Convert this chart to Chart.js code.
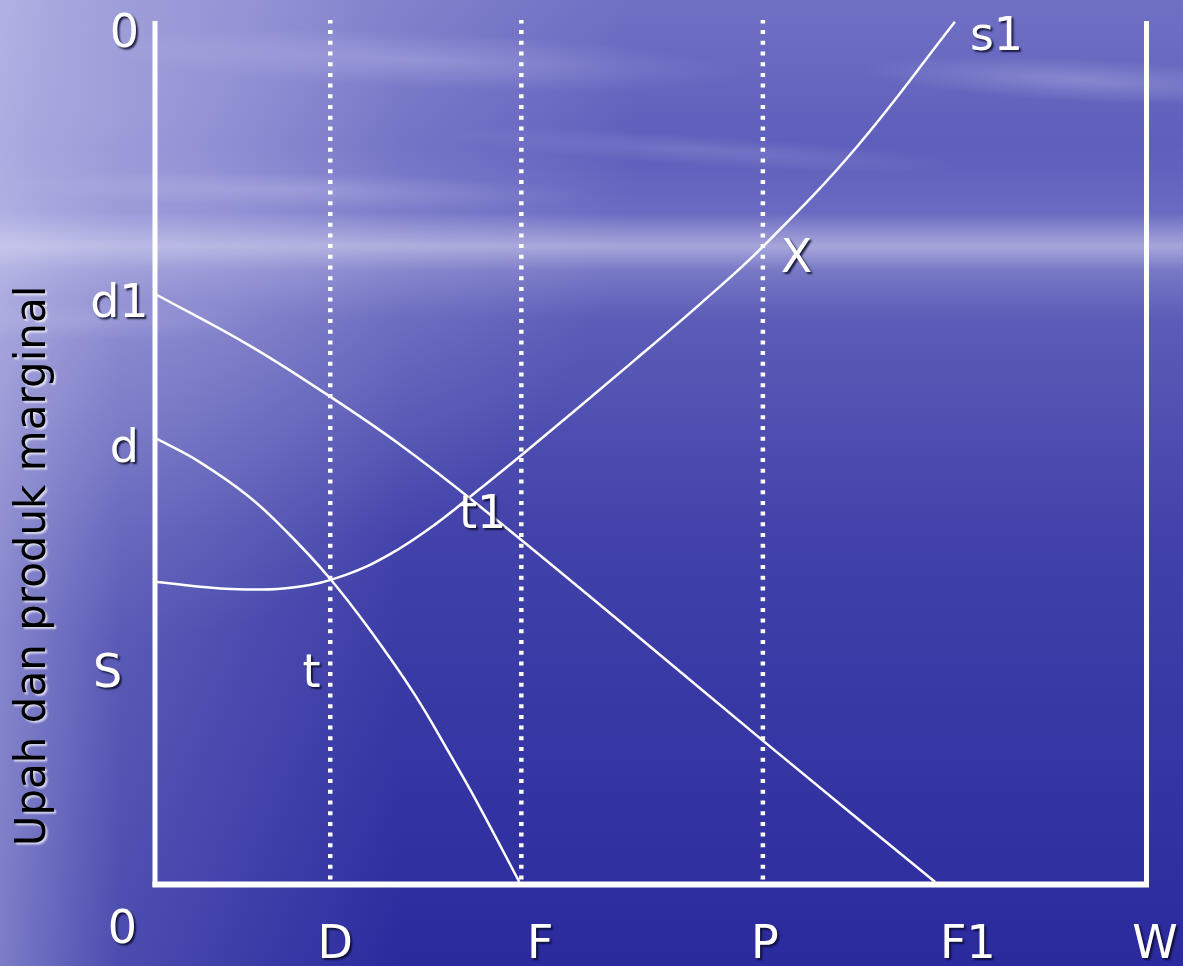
<!DOCTYPE html>
<html>
<head>
<meta charset="utf-8">
<script src="https://cdn.jsdelivr.net/npm/chart.js@4.4.0/dist/chart.umd.min.js"></script>
<style>
  html, body { margin: 0; padding: 0; background: #2a2a9c; }
  #wrap { width: 1183px; height: 966px; }
</style>
</head>
<body>
<div id="wrap"><canvas id="myChart" width="1183" height="966"></canvas></div>
<script>
// curve points (x: labour, y: wage / marginal product), arbitrary 0..100 units
var d1X = [0, 9.4, 17.5, 24.6, 32.6, 46.8, 61.2, 78.6];
var d1Y = [68.1, 62.2, 56.3, 50.7, 43.6, 30.2, 16.4, 0];

var dX = [0, 4.2, 9.3, 13.3, 17.4, 21.4, 26.0, 29.5, 32.5, 36.6];
var dY = [51.4, 48.8, 44.7, 40.4, 35.3, 29.4, 21.8, 15.0, 8.9, 0];

var s1X = [0, 7.4, 13.9, 19.0, 23.5, 28.0, 32.5, 36.8, 48.1, 54.9, 61.2, 70.7, 80.6];
var s1Y = [34.8, 34.0, 34.2, 35.6, 38.0, 41.4, 45.5, 49.5, 60.4, 67.1, 73.7, 85.3, 99.8];

// dotted guide lines at D, F, P
var guideX = [17.5, 36.8, 61.2];

// text labels placed in data units (x centre, y baseline)
var labelText = ['0', 'd1', 'd', 'S', 't', 't1', 'X', 's1', '0', 'D', 'F', 'P', 'F1', 'W'];
var labelX = [-3.3, -3.8, -3.3, -5.0, 15.6, 32.9, 64.6, 84.8, -3.5, 18.0, 38.7, 61.4, 81.9, 100.8];
var labelY = [96.9, 65.5, 48.7, 22.6, 22.6, 41.1, 70.8, 96.5, -7.1, -8.8, -8.8, -8.8, -8.8, -8.8];

var yTitle = 'Upah dan produk marginal';

function pts(xs, ys) {
  return xs.map(function (x, i) { return { x: x, y: ys[i] }; });
}

function curve(xs, ys) {
  return {
    data: pts(xs, ys),
    showLine: true,
    borderColor: '#ffffff',
    borderWidth: 2.5,
    pointRadius: 0,
    tension: 0.4,
    clip: false
  };
}

var datasets = [curve(d1X, d1Y), curve(dX, dY), curve(s1X, s1Y)];
guideX.forEach(function (gx) {
  datasets.push({
    data: [{ x: gx, y: 0.3 }, { x: gx, y: 100 }],
    showLine: true,
    borderColor: '#ffffff',
    borderWidth: 4.5,
    borderDash: [4, 6.7],
    borderCapStyle: 'butt',
    pointRadius: 0,
    clip: false
  });
});

function cloud(ctx, x, y, rx, ry, rot, a) {
  ctx.save();
  ctx.translate(x, y);
  ctx.rotate(rot);
  ctx.scale(1, ry / rx);
  var g = ctx.createRadialGradient(0, 0, 0, 0, 0, rx);
  g.addColorStop(0, 'rgba(235,235,255,' + a + ')');
  g.addColorStop(1, 'rgba(235,235,255,0)');
  ctx.fillStyle = g;
  ctx.beginPath();
  ctx.arc(0, 0, rx, 0, Math.PI * 2);
  ctx.fill();
  ctx.restore();
}

var background = {
  id: 'background',
  beforeDraw: function (chart) {
    var ctx = chart.ctx, w = chart.width, h = chart.height;
    ctx.save();
    var g = ctx.createLinearGradient(0, 0, 0, h);
    g.addColorStop(0, '#7070c4');
    g.addColorStop(0.15, '#5e5ebc');
    g.addColorStop(0.22, '#6a6ac2');
    g.addColorStop(0.255, '#a6a6da');
    g.addColorStop(0.28, '#7878c6');
    g.addColorStop(0.33, '#5c5cb8');
    g.addColorStop(0.55, '#4242aa');
    g.addColorStop(1, '#2a2a9e');
    ctx.fillStyle = g;
    ctx.fillRect(0, 0, w, h);

    var lg = ctx.createLinearGradient(0, 0, 400, 0);
    lg.addColorStop(0, 'rgba(225,225,250,0.45)');
    lg.addColorStop(0.3, 'rgba(210,210,245,0.2)');
    lg.addColorStop(1, 'rgba(210,210,245,0)');
    ctx.fillStyle = lg;
    ctx.fillRect(0, 0, w, h);

    var rg = ctx.createRadialGradient(120, 120, 0, 120, 120, 520);
    rg.addColorStop(0, 'rgba(215,215,245,0.4)');
    rg.addColorStop(1, 'rgba(215,215,245,0)');
    ctx.fillStyle = rg;
    ctx.fillRect(0, 0, w, h);

    cloud(ctx, 420, 60, 330, 28, 0.04, 0.22);
    cloud(ctx, 300, 190, 300, 18, 0.02, 0.2);
    cloud(ctx, 1080, 80, 220, 22, 0.05, 0.25);
    cloud(ctx, 700, 150, 260, 16, 0.06, 0.15);
    cloud(ctx, 80, 320, 200, 20, 0, 0.15);
    ctx.restore();
  }
};

var decorations = {
  id: 'decorations',
  afterDraw: function (chart) {
    var ctx = chart.ctx;
    var xs = chart.scales.x, ys = chart.scales.y;
    var x0 = xs.getPixelForValue(0), x1 = xs.getPixelForValue(100);
    var y0 = ys.getPixelForValue(0), y1 = ys.getPixelForValue(100);
    ctx.save();
    // axes frame
    ctx.strokeStyle = '#ffffff';
    ctx.lineCap = 'butt';
    ctx.lineWidth = 5;
    ctx.beginPath();
    ctx.moveTo(x0 - 2, y1 + 1);
    ctx.lineTo(x0 - 2, y0 + 5);
    ctx.moveTo(x1 - 0.5, y1 + 1);
    ctx.lineTo(x1 - 0.5, y0 + 5);
    ctx.stroke();
    ctx.lineWidth = 6;
    ctx.beginPath();
    ctx.moveTo(x0 - 4.5, y0 + 2.5);
    ctx.lineTo(x1 + 2, y0 + 2.5);
    ctx.stroke();

    // labels
    ctx.font = '46px "DejaVu Sans"';
    ctx.textAlign = 'center';
    ctx.textBaseline = 'alphabetic';
    ctx.fillStyle = '#ffffff';
    ctx.shadowColor = 'rgba(10,10,40,0.85)';
    ctx.shadowOffsetX = 2;
    ctx.shadowOffsetY = 2;
    ctx.shadowBlur = 2;
    labelText.forEach(function (t, i) {
      ctx.fillText(t, xs.getPixelForValue(labelX[i]), ys.getPixelForValue(labelY[i]));
    });

    // vertical axis title
    ctx.translate(45, 566);
    ctx.rotate(-Math.PI / 2);
    ctx.font = '42px "DejaVu Sans"';
    ctx.fillStyle = '#000000';
    ctx.shadowColor = 'rgba(255,255,255,0.7)';
    ctx.shadowOffsetX = 2;
    ctx.shadowOffsetY = 2;
    ctx.shadowBlur = 2;
    ctx.fillText(yTitle, 0, 0);
    ctx.restore();
  }
};

var ctx = document.getElementById('myChart');
var myChart = new Chart(ctx, {
  type: 'scatter',
  data: { datasets: datasets },
  options: {
    responsive: false,
    animation: false,
    devicePixelRatio: 1,
    layout: { padding: { left: 157, right: 36, top: 20, bottom: 84 } },
    plugins: { legend: { display: false }, tooltip: { enabled: false } },
    scales: {
      x: { type: 'linear', min: 0, max: 100, display: false },
      y: { type: 'linear', min: 0, max: 100, display: false }
    }
  },
  plugins: [background, decorations]
});
</script>
</body>
</html>
